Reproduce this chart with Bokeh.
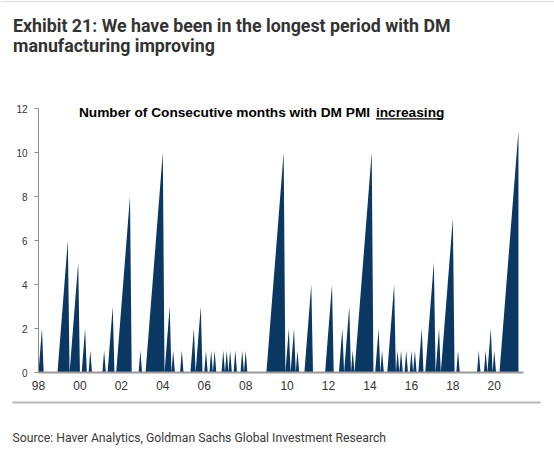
from bokeh.plotting import figure
from bokeh.models import Range1d, FixedTicker, Label
from bokeh.embed import file_html
from bokeh.resources import INLINE

# Number of consecutive months with DM PMI increasing (monthly, Jan..Dec)
start_year = 1998
v1998 = [0, 1, 2, 0, 0, 0, 0, 0, 0, 0, 0, 0]
v1999 = [1, 2, 3, 4, 5, 6, 0, 1, 2, 3, 4, 5]
v2000 = [0, 0, 1, 2, 0, 0, 1, 0, 0, 0, 0, 0]
v2001 = [0, 0, 1, 0, 0, 1, 2, 3, 0, 0, 1, 2]
v2002 = [3, 4, 5, 6, 7, 8, 0, 0, 0, 0, 0, 1]
v2003 = [0, 0, 0, 1, 2, 3, 4, 5, 6, 7, 8, 9]
v2004 = [10, 0, 1, 2, 3, 0, 1, 0, 0, 0, 0, 1]
v2005 = [0, 0, 0, 0, 0, 1, 2, 0, 1, 2, 3, 0]
v2006 = [0, 1, 0, 0, 1, 0, 1, 0, 0, 0, 0, 1]
v2007 = [0, 1, 0, 1, 0, 0, 1, 0, 0, 0, 1, 0]
v2008 = [1, 0, 0, 0, 0, 0, 0, 0, 0, 0, 0, 0]
v2009 = [0, 1, 2, 3, 4, 5, 6, 7, 8, 9, 10, 0]
v2010 = [1, 2, 0, 1, 2, 0, 1, 0, 0, 0, 0, 1]
v2011 = [2, 3, 4, 0, 0, 0, 0, 0, 0, 0, 0, 1]
v2012 = [2, 3, 4, 0, 0, 0, 0, 1, 2, 0, 1, 2]
v2013 = [3, 0, 1, 0, 1, 2, 3, 4, 5, 6, 7, 8]
v2014 = [9, 10, 0, 0, 1, 2, 0, 1, 0, 0, 0, 1]
v2015 = [2, 3, 4, 0, 1, 0, 1, 0, 0, 1, 0, 0]
v2016 = [1, 0, 1, 0, 0, 1, 2, 0, 0, 1, 2, 3]
v2017 = [4, 5, 0, 1, 2, 0, 1, 2, 3, 4, 5, 6]
v2018 = [7, 0, 0, 1, 0, 0, 0, 0, 0, 0, 0, 0]
v2019 = [0, 0, 0, 1, 0, 0, 0, 1, 0, 1, 2, 0]
v2020 = [1, 0, 0, 0, 1, 2, 3, 4, 5, 6, 7, 8]
v2021 = [9, 10, 11]

tick_years = [1998, 2000, 2002, 2004, 2006, 2008, 2010, 2012, 2014, 2016, 2018, 2020]
tick_labels = ["98", "00", "02", "04", "06", "08", "10", "12", "14", "16", "18", "20"]
y_ticks = [0, 2, 4, 6, 8, 10, 12]

title_lines = ["Exhibit 21: We have been in the longest period with DM",
               "manufacturing improving"]
subtitle_main = "Number of Consecutive months with DM PMI"
subtitle_emph = "increasing"
source_text = "Source: Haver Analytics, Goldman Sachs Global Investment Research"

values = (v1998 + v1999 + v2000 + v2001 + v2002 + v2003 + v2004 + v2005 + v2006 +
          v2007 + v2008 + v2009 + v2010 + v2011 + v2012 + v2013 + v2014 + v2015 +
          v2016 + v2017 + v2018 + v2019 + v2020 + v2021)
x = [start_year + i / 12.0 for i in range(len(values))]

# ---- geometry (page pixels) ----
W, H = 554, 452
AL, AR, AT, AB = 38, 523, 108, 372          # axes box edges
X0, X1 = 1998.0, 2021.41
Y0, Y1 = 0.0, 12.0


def dx(px):
    return X0 + (px - AL) * (X1 - X0) / (AR - AL)


def dy(py):
    return Y0 + (AB - py) * (Y1 - Y0) / (AB - AT)


SANS = "Liberation Sans"
HEAD = "Roboto"

p = figure(width=W, height=H, x_range=Range1d(dx(0), dx(W)), y_range=Range1d(dy(H), dy(0)),
           output_backend="svg", toolbar_location=None, min_border=0)
p.outline_line_color = None
p.xgrid.visible = False
p.ygrid.visible = False

p.varea(x=x, y1=0, y2=values, fill_color="#0b3763")

p.xaxis.fixed_location = Y0
p.xaxis.bounds = (X0, X1)
p.xaxis.ticker = FixedTicker(ticks=tick_years)
p.xaxis.major_label_overrides = {k: v for k, v in zip(tick_years, tick_labels)}
p.xaxis.major_tick_out = 0
p.xaxis.major_tick_in = 0
p.xaxis.minor_tick_out = 0
p.xaxis.minor_tick_in = 0
p.xaxis.axis_line_color = "#9a9a9a"
p.xaxis.axis_line_width = 2
p.xaxis.major_label_standoff = 8
p.xaxis.major_label_text_font = SANS
p.xaxis.major_label_text_font_size = "12px"
p.xaxis.major_label_text_color = "#333333"

p.yaxis.fixed_location = X0
p.yaxis.bounds = (Y0, Y1)
p.yaxis.ticker = FixedTicker(ticks=y_ticks)
p.yaxis.major_tick_out = 4
p.yaxis.major_tick_in = 0
p.yaxis.minor_tick_out = 0
p.yaxis.minor_tick_in = 0
p.yaxis.axis_line_color = "#8c8c8c"
p.yaxis.major_tick_line_color = "#8c8c8c"
p.yaxis.major_label_standoff = 7
p.yaxis.major_label_text_font = SANS
p.yaxis.major_label_text_font_size = "10px"
p.yaxis.major_label_text_color = "#333333"

# faint page rule at the very top
p.segment(x0=[dx(0)], y0=[dy(1)], x1=[dx(W)], y1=[dy(1)],
          line_color="#dedede", line_width=1)

# ---- heading ----
head_size = 17.8
for i, line in enumerate(title_lines):
    base = 30.7 + 20 * i
    p.add_layout(Label(x=dx(12.5), y=dy(base - 0.342 * head_size), text=line,
                       text_font=HEAD, text_font_style="bold",
                       text_font_size=f"{head_size}px", text_color="#333333",
                       text_baseline="middle"))

# ---- in-chart subtitle ----
sub_size = 13.7
sub_mid = 116.7 - 0.3465 * sub_size
p.add_layout(Label(x=dx(78.4), y=dy(sub_mid), text=subtitle_main, text_font=SANS,
                   text_font_style="bold", text_font_size=f"{sub_size}px",
                   text_color="black", text_baseline="middle"))
p.add_layout(Label(x=dx(375.4), y=dy(sub_mid), text=subtitle_emph, text_font=SANS,
                   text_font_style="bold", text_font_size=f"{sub_size}px",
                   text_color="black", text_baseline="middle"))
p.segment(x0=[dx(375.4)], y0=[dy(118.3)], x1=[dx(442.3)], y1=[dy(118.3)],
          line_color="black", line_width=1.3)

# ---- source block ----
p.segment(x0=[dx(12)], y0=[dy(402)], x1=[dx(540)], y1=[dy(402)],
          line_color="#b8b8b8", line_width=2)
src_size = 12.2
p.add_layout(Label(x=dx(12), y=dy(441.5 - 0.342 * src_size), text=source_text,
                   text_font=HEAD, text_font_size=f"{src_size}px",
                   text_color="#3a3a3a", text_baseline="middle"))

open("out.html", "w").write(file_html(p, INLINE))
